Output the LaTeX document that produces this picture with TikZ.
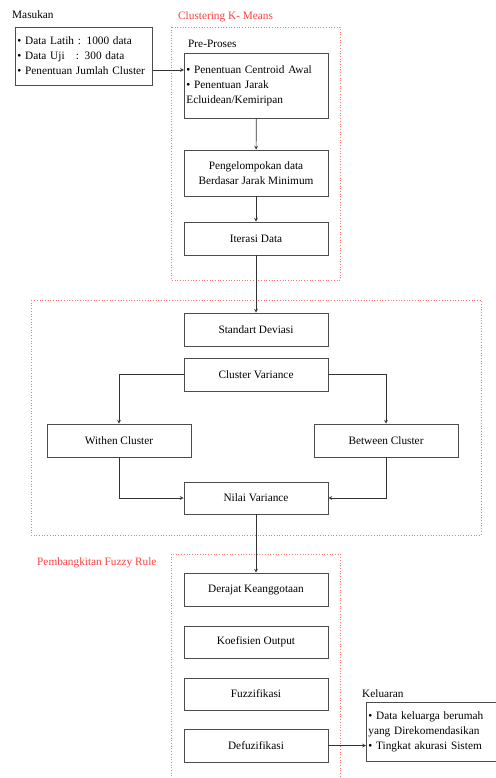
\documentclass[tikz,border=0pt]{standalone}
\usepackage{fontspec}
\setmainfont{Liberation Serif}
\usetikzlibrary{calc, positioning}

\tikzset{
  proses/.style = {draw = black!70, line width = 0.8pt, minimum width = 144pt,
                   minimum height = 33pt, align = center, inner sep = 2pt},
  daftar/.style = {draw = black!70, line width = 0.8pt, align = left,
                   inner xsep = 2pt, anchor = west},
  grup/.style   = {draw = red!55, dotted, line width = 0.7pt},
  judul/.style  = {anchor = west, inner sep = 0pt},
  panah/.style  = {draw = black!80, line width = 0.7pt, -stealth}
}

\begin{document}
\begin{tikzpicture}[x = 1pt, y = -1pt, font = \fontsize{11.3}{15}\selectfont]
  \useasboundingbox (0, 0) rectangle (495, 778);

  % グループの枠
  \draw [grup] (171, 27) rectangle (340, 280);
  \draw [grup] (31, 300) rectangle (481, 535);
  \draw [grup] (171, 554) rectangle (340, 790);

  % 見出し
  \node [judul] at (12, 15) {Masukan};
  \node [judul, text = red!75] at (178, 17) {Clustering K- Means};
  \node [judul] at (188, 44) {Pre-Proses};
  \node [judul, text = red!75] at (37, 563) {Pembangkitan Fuzzy Rule};
  \node [judul] at (362, 694) {Keluaran};

  % 入力
  \node [daftar, minimum width = 137pt, minimum height = 58pt, text width = 133pt]
    (masukan) at (15, 56)
    {\textbullet\ Data Latih : 1000 data\\
     \textbullet\ Data Uji \ \ : 300 data\\
     \textbullet\ Penentuan Jumlah Cluster};

  % K-Means
  \node [daftar, minimum width = 144pt, minimum height = 65pt, text width = 140pt]
    (awal) at (184, 85.5)
    {\textbullet\ Penentuan Centroid Awal\\
     \textbullet\ Penentuan Jarak\\
     Ecluidean/Kemiripan};
  \node [proses, minimum height = 46pt] (kelompok) at (256, 173)
    {Pengelompokan data\\Berdasar Jarak Minimum};
  \node [proses] (iterasi) at (256, 238.5) {Iterasi Data};

  % 分散
  \node [proses] (deviasi) at (256, 329.5) {Standart Deviasi};
  \node [proses] (cvar) at (256, 374.5) {Cluster Variance};
  \node [proses] (within) at (119, 440.5) {Withen Cluster};
  \node [proses] (between) at (386, 440.5) {Between Cluster};
  \node [proses, minimum height = 32pt] (nilai) at (256, 498) {Nilai Variance};

  % ファジィ
  \node [proses] (derajat) at (256, 589.5) {Derajat Keanggotaan};
  \node [proses, minimum height = 32pt] (koef) at (256, 642) {Koefisien Output};
  \node [proses, minimum height = 32pt] (fuzzi) at (256, 694) {Fuzzifikasi};
  \node [proses] (defuzzi) at (256, 745.5) {Defuzifikasi};

  % 出力
  \node [daftar, minimum width = 131pt, minimum height = 59pt, text width = 127pt]
    (keluaran) at (366, 731.5)
    {\textbullet\ Data keluarga berumah\\
     yang Direkomendasikan\\
     \textbullet\ Tingkat akurasi Sistem};

  % 矢印
  \coordinate (masuk) at (0, 70);
  \draw [panah] (masukan.east |- masuk) -- (awal.west |- masuk);
  \draw [panah] (awal) -- (kelompok);
  \draw [panah] (kelompok) -- (iterasi);
  \draw [panah] (iterasi) -- (deviasi);
  \draw [panah] (cvar.west) -| (within.north);
  \draw [panah] (cvar.east) -| (between.north);
  \draw [panah] (within.south) |- (nilai.west);
  \draw [panah] (between.south) |- (nilai.east);
  \draw [panah] (nilai) -- (derajat);
  \draw [panah] (defuzzi.east) -- (keluaran.west |- defuzzi.east);

\end{tikzpicture}
\end{document}
